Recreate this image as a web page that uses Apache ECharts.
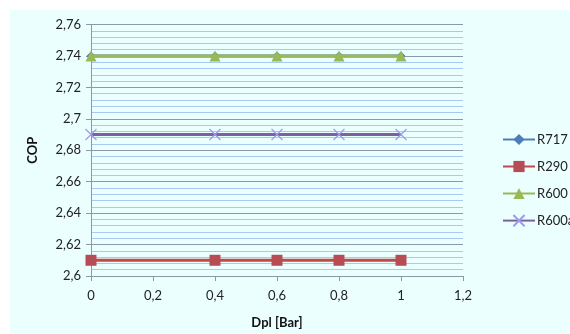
<!DOCTYPE html>
<html><head><meta charset="utf-8">
<script src="https://cdn.jsdelivr.net/npm/echarts@6/dist/echarts.min.js"></script>
<style>html,body{margin:0;padding:0;background:#fff}#c{width:570px;height:334px}</style>
</head><body><div id="c"></div>
<script>
const xValues = [0, 0.4, 0.6, 0.8, 1];
const seriesNames = ['R717', 'R290', 'R600', 'R600a'];
const r717 = [2.74, 2.74, 2.74, 2.74, 2.74];
const r290 = [2.61, 2.61, 2.61, 2.61, 2.61];
const r600 = [2.74, 2.74, 2.74, 2.74, 2.74];
const r600a = [2.69, 2.69, 2.69, 2.69, 2.69];

const fmt = v => String(Math.round(v * 1000) / 1000).replace('.', ',');
const pairs = arr => xValues.map((x, i) => [x, arr[i]]);
const font = 'Lato, "Open Sans", sans-serif';

const chart = echarts.init(document.getElementById('c'), null, {renderer: 'canvas'});
chart.setOption({
  animation: false,
  backgroundColor: '#fff',
  graphic: [{type: 'rect', shape: {x: 10, y: 10, width: 560, height: 324}, style: {fill: '#EBFFFF'}, z: -10, silent: true}],
  grid: {left: 91, right: 107, top: 24.5, bottom: 58, containLabel: false},
  legend: {
    orient: 'vertical', left: 497, top: 128, itemGap: 14, itemWidth: 32, itemHeight: 14,
    textStyle: {fontFamily: font, fontSize: 13, color: '#222', padding: [0, 0, 0, -3]},
    data: seriesNames
  },
  xAxis: {
    type: 'value', min: 0, max: 1.2, interval: 0.2,
    name: 'Dpl [Bar]', nameLocation: 'middle', nameGap: 40,
    nameTextStyle: {fontFamily: font, fontWeight: 'bold', fontSize: 13, color: '#111'},
    axisLine: {lineStyle: {color: '#8C98A6', width: 1}},
    axisTick: {show: true, length: 5, lineStyle: {color: '#8C98A6'}},
    axisLabel: {formatter: fmt, fontFamily: font, fontSize: 13, color: '#222', margin: 13},
    splitLine: {show: false}
  },
  yAxis: {
    type: 'value', min: 2.6, max: 2.76, interval: 0.02,
    name: 'COP', nameLocation: 'middle', nameGap: 52, nameRotate: 90,
    nameTextStyle: {fontFamily: font, fontWeight: 'bold', fontSize: 13, color: '#111'},
    axisLine: {show: true, lineStyle: {color: '#8C98A6', width: 1}},
    axisTick: {show: true, length: 5, lineStyle: {color: '#8C98A6'}},
    axisLabel: {formatter: fmt, fontFamily: font, fontSize: 13, color: '#222', margin: 10},
    splitLine: {show: true, lineStyle: {color: '#8A9AAA', width: 1}},
    minorTick: {show: false, splitNumber: 5},
    minorSplitLine: {show: true, lineStyle: {color: '#A9C8F2', width: 1}}
  },
  series: [
    {name: 'R717', type: 'line', data: pairs(r717), symbol: 'diamond', symbolSize: 9,
     lineStyle: {color: '#4A7EBB', width: 3}, itemStyle: {color: '#4A7EBB'}, z: 2},
    {name: 'R290', type: 'line', data: pairs(r290), symbol: 'rect', symbolSize: 11,
     lineStyle: {color: '#BE4B48', width: 3}, itemStyle: {color: '#B84C55'}, z: 3},
    {name: 'R600', type: 'line', data: pairs(r600), symbol: 'triangle', symbolSize: 11,
     lineStyle: {color: '#98B954', width: 3}, itemStyle: {color: '#98B954'}, z: 4},
    {name: 'R600a', type: 'line', data: pairs(r600a), symbol: 'path://M0,0L10,10M10,0L0,10', symbolSize: 11,
     lineStyle: {color: '#7D60A0', width: 3},
     itemStyle: {color: 'rgba(0,0,0,0)', borderColor: '#9C9CEC', borderWidth: 1.2}, z: 5}
  ]
});
</script></body></html>
